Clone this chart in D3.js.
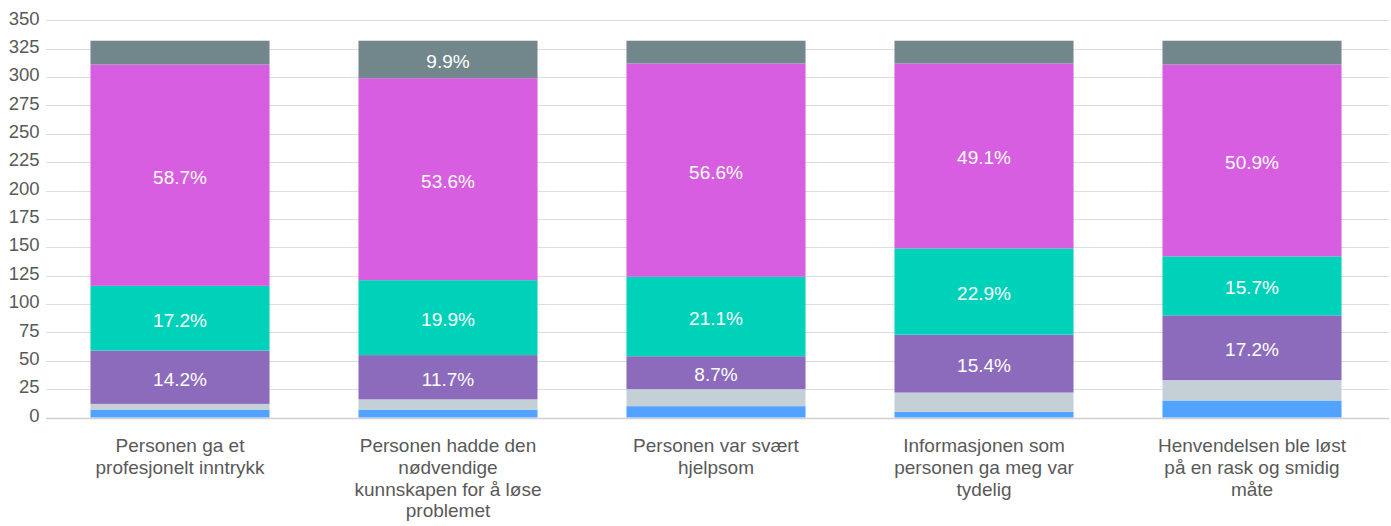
<!DOCTYPE html>
<html>
<head>
<meta charset="utf-8">
<script src="https://cdn.jsdelivr.net/npm/d3@7"></script>
<style>
  html, body { margin: 0; padding: 0; background: #ffffff; }
  svg { display: block; font-family: "Liberation Sans", Arial, Helvetica, sans-serif; }
</style>
</head>
<body>
<svg id="chart" width="1391" height="526"></svg>
<script>
// ---- data ----
const categories = [
  ["Personen ga et", "profesjonelt inntrykk"],
  ["Personen hadde den", "nødvendige", "kunnskapen for å løse", "problemet"],
  ["Personen var svært", "hjelpsom"],
  ["Informasjonen som", "personen ga meg var", "tydelig"],
  ["Henvendelsen ble løst", "på en rask og smidig", "måte"]
];
const seriesNames = ["s1", "s2", "s3", "s4", "s5", "s6"];
const s1 = [7, 7, 10, 5, 15];        // blue (bottom)
const s2 = [5, 9, 15, 17, 18];       // light gray
const s3 = [47, 39, 29, 51, 57];     // purple
const s4 = [57, 66, 70, 76, 52];     // teal
const s5 = [195, 178, 188, 163, 169];// magenta
const s6 = [21, 33, 20, 20, 21];     // dark gray (top)
const seriesValues = [s1, s2, s3, s4, s5, s6];
const yTicks = [0, 25, 50, 75, 100, 125, 150, 175, 200, 225, 250, 275, 300, 325, 350];

const colors = ["#52a3ff", "#c5cfd6", "#8c6bbd", "#00d1b9", "#d75ee0", "#72878c"];

// ---- layout ----
const svg = d3.select("#chart");
const x0 = 46, x1 = 1386, yTop = 20.3, yBottom = 417.5;

const rows = categories.map((c, i) => {
  const r = { idx: i };
  seriesNames.forEach((s, k) => r[s] = seriesValues[k][i]);
  r.total = d3.sum(seriesValues, v => v[i]);
  return r;
});

const x = d3.scaleBand()
  .domain(d3.range(categories.length))
  .range([x0, x1])
  .paddingInner(0.332)
  .paddingOuter(0.166);

const y = d3.scaleLinear().domain([0, 350]).range([yBottom, yTop]);

// gridlines
svg.append("g")
  .selectAll("line")
  .data(yTicks)
  .join("line")
  .attr("x1", x0)
  .attr("x2", 1389)
  .attr("y1", d => Math.round(y(d)) + 0.5)
  .attr("y2", d => Math.round(y(d)) + 0.5)
  .attr("stroke", d => d === 0 ? "#d0d0d0" : "#dcdcdc")
  .attr("stroke-width", d => d === 0 ? 1.5 : 1.2);

// y axis labels
const yAxis = d3.axisLeft(y).tickValues(yTicks).tickSize(0).tickPadding(0);
const gy = svg.append("g").attr("transform", "translate(39.5,0)").call(yAxis);
gy.select(".domain").remove();
gy.selectAll("text")
  .attr("font-size", "18.5px")
  .attr("fill", "#595959")
  .attr("font-family", "'Liberation Sans', Arial, sans-serif")
  .attr("dy", "0.2em");

// stacked bars
const stack = d3.stack().keys(seriesNames);
const stacked = stack(rows);

const layers = svg.append("g").selectAll("g")
  .data(stacked)
  .join("g")
  .attr("fill", (d, i) => colors[i]);

layers.selectAll("rect")
  .data(d => d)
  .join("rect")
  .attr("x", d => x(d.data.idx))
  .attr("width", x.bandwidth())
  .attr("y", d => y(d[1]))
  .attr("height", d => y(d[0]) - y(d[1]));

// percentage labels
const labelData = [];
stacked.forEach(layer => {
  layer.forEach(d => {
    const v = d[1] - d[0];
    if (v >= 25) {
      labelData.push({ cx: x(d.data.idx) + x.bandwidth() / 2, cy: (y(d[0]) + y(d[1])) / 2, pct: v / d.data.total * 100 });
    }
  });
});
svg.append("g").selectAll("text")
  .data(labelData)
  .join("text")
  .attr("x", d => d.cx)
  .attr("y", d => d.cy)
  .attr("dy", "0.45em")
  .attr("text-anchor", "middle")
  .attr("font-size", "19px")
  .attr("fill", "#ffffff")
  .text(d => d.pct.toFixed(1) + "%");

// category labels
const catG = svg.append("g").selectAll("text")
  .data(categories)
  .join("text")
  .attr("x", (d, i) => x(i) + x.bandwidth() / 2)
  .attr("y", 452)
  .attr("text-anchor", "middle")
  .attr("font-size", "19px")
  .attr("fill", "#595959");
catG.selectAll("tspan")
  .data(d => d)
  .join("tspan")
  .attr("x", function () { return d3.select(this.parentNode).attr("x"); })
  .attr("dy", (d, i) => i === 0 ? 0 : 21.8)
  .text(d => d);
</script>
</body>
</html>
